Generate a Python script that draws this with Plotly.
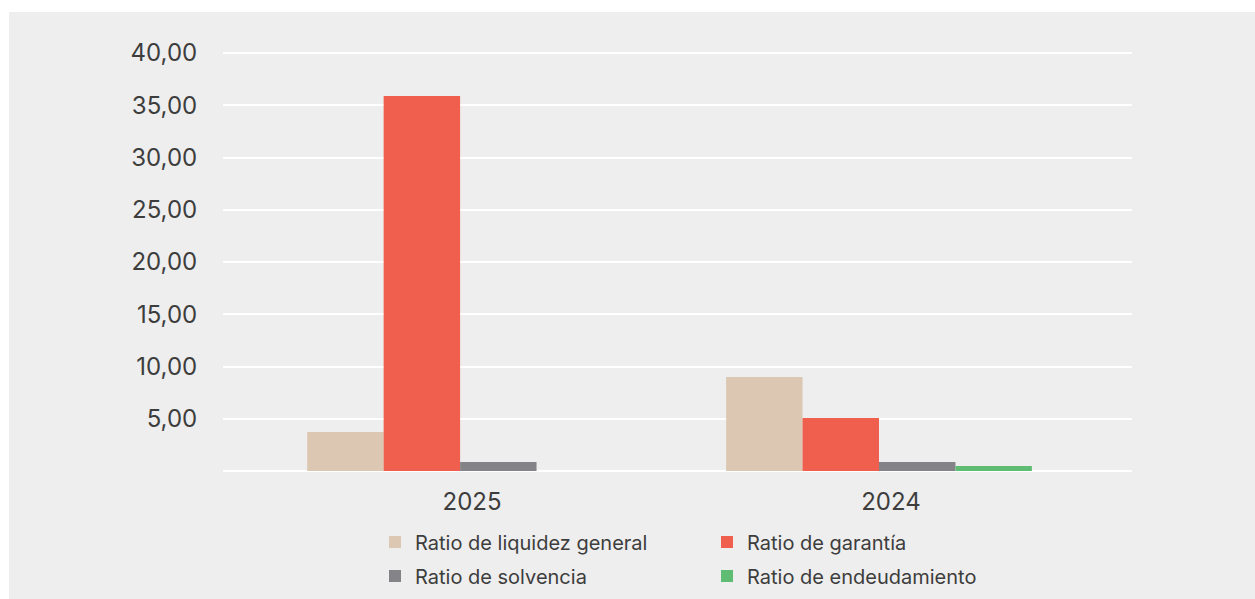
import plotly.graph_objects as go

# Categories and series values
years = ["2025", "2024"]
liquidez_general = [3.73, 9.0]
garantia = [35.9, 5.07]
solvencia = [0.86, 0.86]
endeudamiento = [None, 0.48]

series_names = [
    "Ratio de liquidez general",
    "Ratio de garantía",
    "Ratio de solvencia",
    "Ratio de endeudamiento",
]
series_values = [liquidez_general, garantia, solvencia, endeudamiento]
series_colors = ["#dcc7b3", "#f05e4e", "#848488", "#5fbd73"]
series_legend = ["legend", "legend", "legend2", "legend2"]

y_tick_values = [5, 10, 15, 20, 25, 30, 35, 40]
y_tick_labels = ["5,00", "10,00", "15,00", "20,00", "25,00", "30,00", "35,00", "40,00"]

FONT = "Inter, Liberation Sans, Arial, sans-serif"
TEXT = "#3d3d3d"
BG = "#eeeeee"

fig = go.Figure()
for name, vals, color, lg in zip(series_names, series_values, series_colors, series_legend):
    fig.add_trace(go.Bar(
        x=years, y=vals, name=name, marker=dict(color=color, line=dict(width=0)),
        legend=lg, hoverinfo="x+y+name",
    ))

W, H = 1255, 599
ml, mr, mt, mb = 223, 123, 51, 128
pw, ph = W - ml - mr, H - mt - mb

# grey panel behind the chart, leaving a thin white frame top/left
fig.add_shape(
    type="rect", xref="paper", yref="paper", layer="below",
    x0=(9 - ml) / pw, x1=(W + 20 - ml) / pw,
    y0=-(mb + 20) / ph, y1=(H - mb - 12) / ph,
    fillcolor=BG, line=dict(width=0),
)

legend_common = dict(
    orientation="h", xanchor="left", yanchor="middle",
    entrywidth=287, entrywidthmode="pixels",
    font=dict(family=FONT, size=20, color=TEXT),
    bgcolor="rgba(0,0,0,0)", borderwidth=0,
    itemclick=False, itemdoubleclick=False, traceorder="normal",
)

fig.update_layout(
    width=W, height=H,
    margin=dict(l=ml, r=mr, t=mt, b=mb, pad=0, autoexpand=False),
    paper_bgcolor="white",
    plot_bgcolor="rgba(0,0,0,0)",
    barmode="group", bargap=0.27, bargroupgap=0,
    font=dict(family=FONT, color=TEXT),
    xaxis=dict(
        type="category", range=[-0.566, 1.604],
        showgrid=False, zeroline=False, showline=False,
        ticks="outside", ticklen=9, tickcolor="rgba(0,0,0,0)",
        tickfont=dict(family=FONT, size=24, color=TEXT),
        ticklabelshift=12,
    ),
    yaxis=dict(
        range=[0, 40.2], tickvals=y_tick_values, ticktext=y_tick_labels,
        showgrid=True, gridcolor="white", gridwidth=2,
        zeroline=True, zerolinecolor="white", zerolinewidth=2,
        showline=False,
        ticks="outside", ticklen=20, tickcolor="rgba(0,0,0,0)",
        tickfont=dict(family=FONT, size=24, color=TEXT),
    ),
    legend=dict(legend_common, x=(375 - ml) / pw, y=(H - mb - 542) / ph),
    legend2=dict(legend_common, x=(375 - ml) / pw, y=(H - mb - 576) / ph),
    showlegend=True,
)

fig.write_html("out.html")
